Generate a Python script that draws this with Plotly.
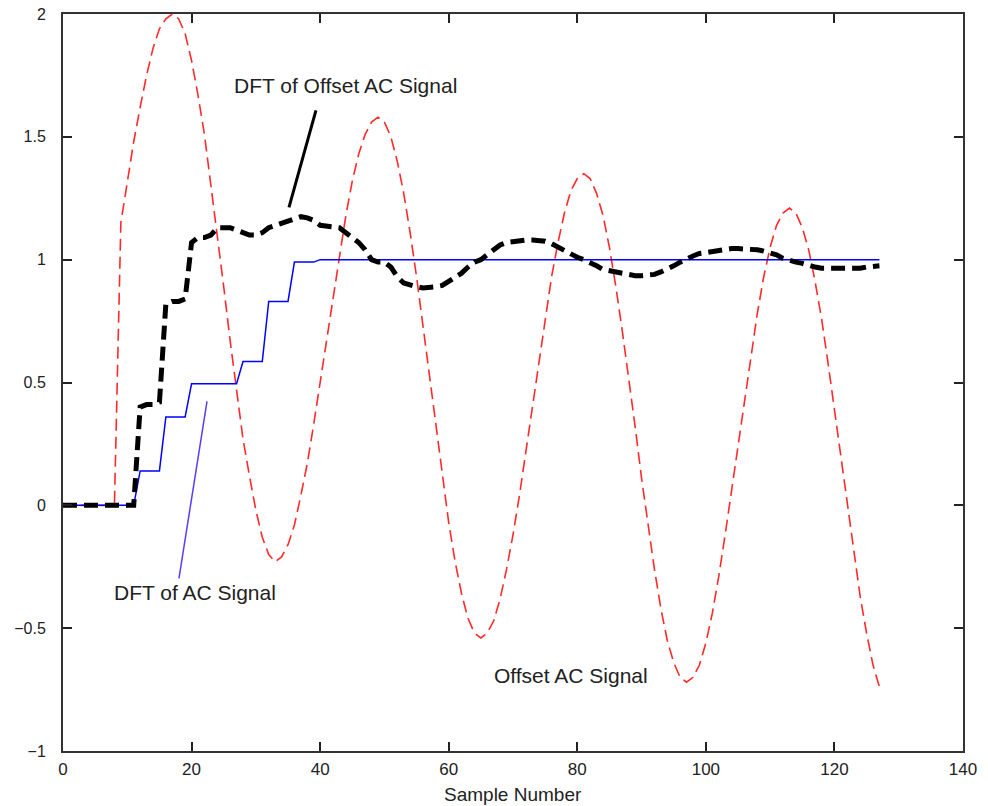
import plotly.graph_objects as go

# Sample index
samples = list(range(128))

# Offset AC Signal (red dashed)
offset_ac = [
    0, 0, 0, 0, 0, 0, 0, 0, 0,
    1.15, 1.32, 1.48, 1.62, 1.75, 1.86, 1.94, 1.98,
    2.0,
    1.98, 1.92, 1.81, 1.67, 1.51, 1.31, 1.10, 0.89, 0.67, 0.46, 0.27, 0.12, -0.02, -0.13, -0.20,
    -0.23,
    -0.21, -0.16, -0.08, 0.04, 0.17, 0.33, 0.50, 0.68, 0.85, 1.02, 1.18, 1.32, 1.43, 1.51, 1.56,
    1.58,
    1.56, 1.50, 1.40, 1.27, 1.11, 0.93, 0.73, 0.52, 0.31, 0.11, -0.07, -0.23, -0.36, -0.46, -0.52,
    -0.54,
    -0.52, -0.47, -0.38, -0.26, -0.12, 0.04, 0.22, 0.41, 0.59, 0.77, 0.93, 1.07, 1.19, 1.28, 1.33,
    1.35,
    1.33, 1.27, 1.18, 1.05, 0.89, 0.71, 0.52, 0.32, 0.11, -0.08, -0.26, -0.42, -0.55, -0.64, -0.70,
    -0.72,
    -0.70, -0.65, -0.56, -0.44, -0.29, -0.12, 0.06, 0.25, 0.43, 0.62, 0.78, 0.93, 1.05, 1.14, 1.19,
    1.21,
    1.19, 1.13, 1.04, 0.91, 0.76, 0.58, 0.39, 0.20, 0.00, -0.19, -0.37, -0.52, -0.65, -0.74,
]

# DFT of Offset AC Signal (thick black dashed)
dft_offset = [
    0, 0, 0, 0, 0, 0, 0, 0, 0, 0, 0, 0,
    0.40, 0.41, 0.41, 0.42, 0.82, 0.83, 0.83, 0.84,
    1.07, 1.09, 1.09, 1.10, 1.13, 1.13, 1.13, 1.12,
    1.11, 1.10, 1.10, 1.11, 1.13, 1.14, 1.15, 1.16,
    1.17, 1.175, 1.17, 1.16, 1.14, 1.135, 1.135, 1.13,
    1.11, 1.09, 1.07, 1.04, 1.00, 0.99, 0.99, 0.97,
    0.93, 0.905, 0.895, 0.89, 0.885, 0.885, 0.89, 0.895,
    0.91, 0.93, 0.945, 0.97, 0.99, 1.00, 1.02, 1.04,
    1.06, 1.07, 1.075, 1.075, 1.08, 1.08, 1.08, 1.075,
    1.065, 1.05, 1.04, 1.02, 1.01, 1.00, 0.99, 0.975,
    0.96, 0.955, 0.945, 0.94, 0.94, 0.935, 0.935, 0.935,
    0.94, 0.95, 0.96, 0.975, 0.99, 1.005, 1.015, 1.025,
    1.03, 1.035, 1.04, 1.045, 1.045, 1.045, 1.045, 1.04,
    1.04, 1.035, 1.03, 1.02, 1.005, 0.995, 0.99, 0.985,
    0.975, 0.97, 0.965, 0.965, 0.96, 0.96, 0.96, 0.96,
    0.965, 0.97, 0.975, 0.975,
]

# DFT of AC Signal (blue solid)
dft_ac = [
    0, 0, 0, 0, 0, 0, 0, 0, 0, 0, 0, 0,
    0.14, 0.14, 0.14, 0.14,
    0.36, 0.36, 0.36, 0.36,
    0.495, 0.495, 0.495, 0.495, 0.495, 0.495, 0.495, 0.495,
    0.585, 0.585, 0.585, 0.585,
    0.83, 0.83, 0.83, 0.83,
    0.99, 0.99, 0.99, 0.99,
    1.0, 1.0, 1.0, 1.0, 1.0, 1.0, 1.0, 1.0,
    1.0, 1.0, 1.0, 1.0, 1.0, 1.0, 1.0, 1.0,
    1.0, 1.0, 1.0, 1.0, 1.0, 1.0, 1.0, 1.0,
    1.0, 1.0, 1.0, 1.0, 1.0, 1.0, 1.0, 1.0,
    1.0, 1.0, 1.0, 1.0, 1.0, 1.0, 1.0, 1.0,
    1.0, 1.0, 1.0, 1.0, 1.0, 1.0, 1.0, 1.0,
    1.0, 1.0, 1.0, 1.0, 1.0, 1.0, 1.0, 1.0,
    1.0, 1.0, 1.0, 1.0, 1.0, 1.0, 1.0, 1.0,
    1.0, 1.0, 1.0, 1.0, 1.0, 1.0, 1.0, 1.0,
    1.0, 1.0, 1.0, 1.0, 1.0, 1.0, 1.0, 1.0,
    1.0, 1.0, 1.0, 1.0, 1.0, 1.0, 1.0, 1.0,
]

x_ticks = [0, 20, 40, 60, 80, 100, 120, 140]
y_ticks = [-1, -0.5, 0, 0.5, 1, 1.5, 2]

FONT = "Liberation Sans, Arial, sans-serif"

fig = go.Figure()
fig.add_trace(go.Scatter(x=samples, y=offset_ac, mode="lines", name="Offset AC Signal",
                         line=dict(color="#ff2a2a", width=1.6, dash="12px,6px")))
fig.add_trace(go.Scatter(x=samples, y=dft_ac, mode="lines", name="DFT of AC Signal",
                         line=dict(color="#0000ff", width=1.5)))
fig.add_trace(go.Scatter(x=samples, y=dft_offset, mode="lines", name="DFT of Offset AC Signal",
                         line=dict(color="#000000", width=5, dash="14px,7px")))

# Leader lines for labels
fig.add_shape(type="line", xref="x", yref="y", x0=39.35, y0=1.608, x1=35.15, y1=1.213,
              line=dict(color="#000000", width=3))
fig.add_shape(type="line", xref="x", yref="y", x0=18.04, y0=-0.297, x1=22.4, y1=0.423,
              line=dict(color="#5b3bff", width=1.5))

fig.add_annotation(x=44.0, y=1.709, xref="x", yref="y", text="DFT of Offset AC Signal",
                   showarrow=False, font=dict(family=FONT, size=21, color="#222222"))
fig.add_annotation(x=20.5, y=-0.354, xref="x", yref="y", text="DFT of AC Signal",
                   showarrow=False, font=dict(family=FONT, size=21, color="#222222"))
fig.add_annotation(x=79.0, y=-0.692, xref="x", yref="y", text="Offset AC Signal",
                   showarrow=False, font=dict(family=FONT, size=21, color="#222222"))

# Axis title
fig.add_annotation(x=0.5, y=0, xref="paper", yref="paper", yshift=-43, text="Sample Number",
                   showarrow=False, yanchor="middle",
                   font=dict(family=FONT, size=19, color="#222222"))

# The page adds an 8px body margin, so the figure is offset to match the reference.
fig.update_layout(
    width=980, height=798,
    margin=dict(l=55, r=25, t=6, b=55, autoexpand=False),
    paper_bgcolor="white", plot_bgcolor="white",
    showlegend=False,
    font=dict(family=FONT, color="#222222"),
)
fig.update_xaxes(range=[0, 140], tickvals=x_ticks, ticks="inside", ticklen=9, tickwidth=2,
                 tickcolor="#222222", showline=True, linecolor="#333333", linewidth=2,
                 mirror="allticks", showgrid=False, zeroline=False, automargin=False,
                 ticklabelstandoff=2, ticklabeloverflow="allow",
                 tickfont=dict(family=FONT, size=17, color="#222222"))
fig.update_yaxes(range=[-1, 2], tickvals=y_ticks, ticks="inside", ticklen=9, tickwidth=2,
                 tickcolor="#222222", showline=True, linecolor="#333333", linewidth=2,
                 mirror="allticks", showgrid=False, zeroline=False, automargin=False,
                 ticklabelstandoff=12, ticklabeloverflow="allow",
                 tickfont=dict(family=FONT, size=16, color="#222222"))

fig.write_html("out.html")
